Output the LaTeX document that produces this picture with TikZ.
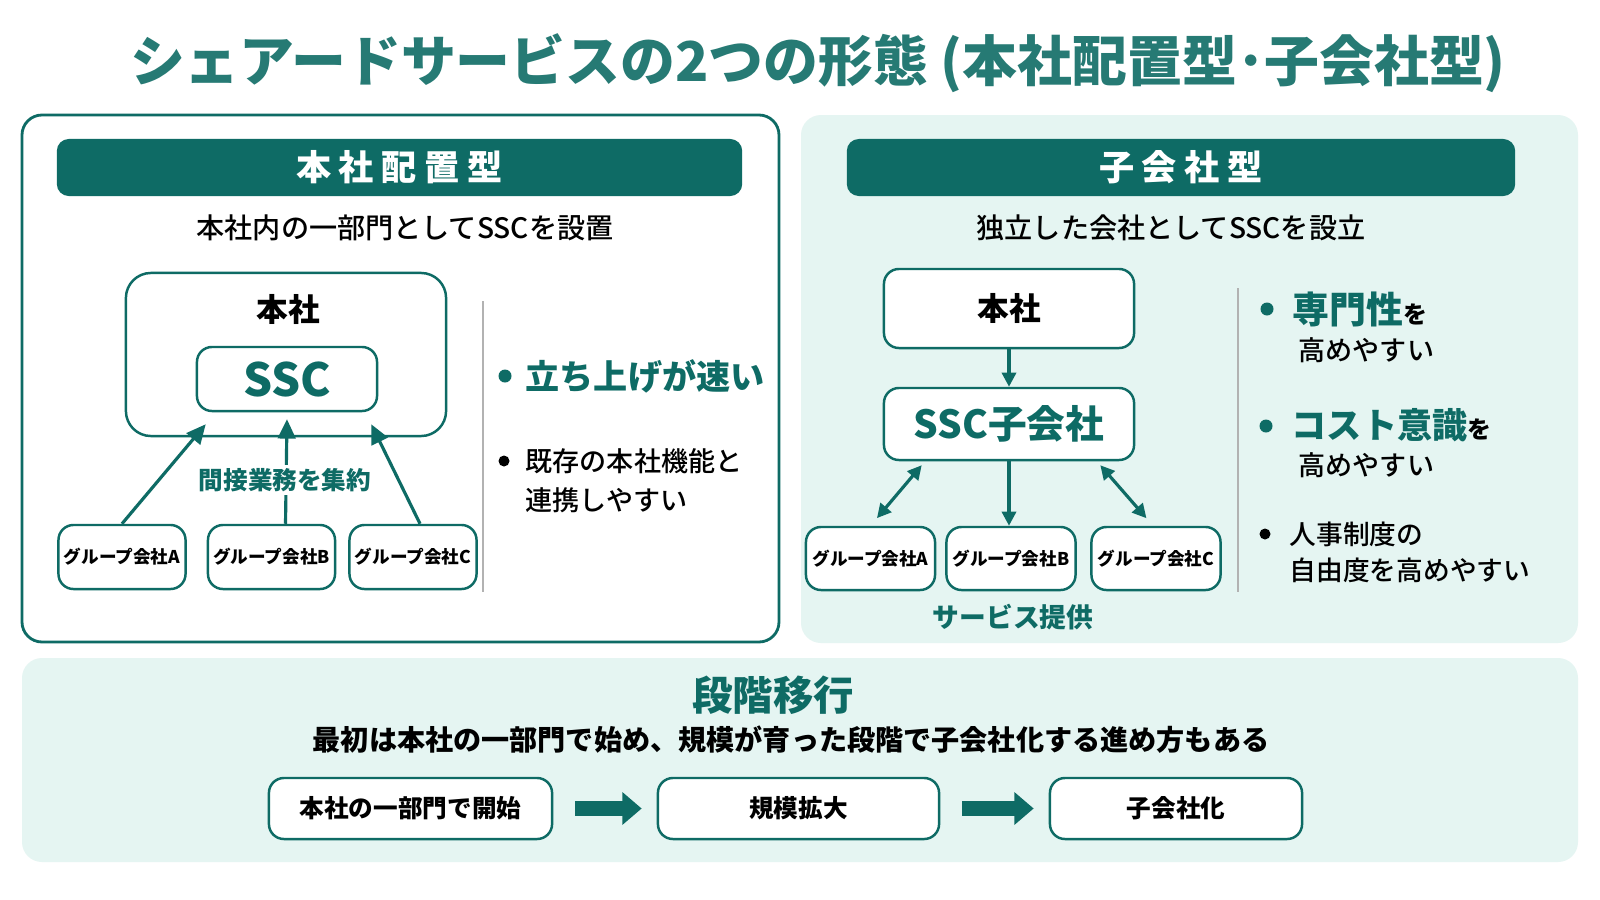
\documentclass[tikz,border=0pt]{standalone}
\usepackage{fontspec}
\setmainfont{Noto Sans CJK JP}
\newfontfamily\jpmed{Noto Sans CJK JP Medium}
\usetikzlibrary{arrows.meta,calc,positioning}
\definecolor{ssteal}{HTML}{0E6B65}
\definecolor{mint}{HTML}{E5F5F2}
\tikzstyle{titletext}=[text=ssteal!90!white, font=\bfseries\fontsize{15.6}{17}\selectfont]
\tikzstyle{header}=[rectangle, rounded corners=1.2mm, fill=ssteal, text=white, minimum height=5.7mm, font=\bfseries\fontsize{10}{11}\selectfont\addfontfeatures{LetterSpace=22}]
\tikzstyle{subtext}=[font=\jpmed\fontsize{8}{10}\selectfont]
\tikzstyle{box}=[rectangle, rounded corners=1.5mm, draw=ssteal, line width=0.7pt, fill=white, inner sep=0pt]
\tikzstyle{groupbox}=[box, minimum width=12.7mm, minimum height=6.4mm, font=\bfseries\fontsize{5}{6}\selectfont]
\tikzstyle{boxlabel}=[font=\bfseries\fontsize{9}{11}\selectfont]
\tikzstyle{ssclabel}=[text=ssteal, font=\bfseries\fontsize{13}{15}\selectfont]
\tikzstyle{edge}=[draw=ssteal, line width=0.9pt, -{Triangle[length=5.5pt,width=5pt]}]
\tikzstyle{twoway}=[draw=ssteal, line width=0.9pt, {Triangle[length=4pt,width=4pt]}-{Triangle[length=4pt,width=4pt]}]
\tikzstyle{tealnote}=[text=ssteal, font=\bfseries\fontsize{7}{8}\selectfont]
\tikzstyle{divider}=[draw=black!30, line width=0.5pt]
\tikzstyle{point}=[text=ssteal, font=\bfseries\fontsize{9.7}{11}\selectfont, anchor=west, inner sep=0pt]
\tikzstyle{pointtext}=[font=\jpmed\fontsize{7.7}{11}\selectfont, anchor=west, align=left, inner sep=0pt]
\tikzstyle{fatarrow}=[draw=ssteal, line width=4.5pt, -{Triangle[length=5.5pt,width=9pt]}, shorten <=2.2mm, shorten >=1.5mm]
\tikzstyle{stepbox}=[box, minimum height=6.1mm, font=\bfseries\fontsize{7}{8}\selectfont]
\begin{document}
\begin{tikzpicture}[x=0.01cm, y=-0.01cm]
    \useasboundingbox (0,0) rectangle (1600,900);
    \fill[white] (0,0) rectangle (1600,900);

    % Title
    \node[titletext] (title) at (818,63) {シェアードサービスの2つの形態 (本社配置型･子会社型)};

    % Panels
    \draw[ssteal, line width=0.8pt, fill=white, rounded corners=2mm] (22,115) rectangle (779,642);
    \fill[mint, rounded corners=2mm] (801,115) rectangle (1578,643);
    \fill[mint, rounded corners=2mm] (22,658) rectangle (1578,862);

    \node[header, minimum width=68.5mm] (hdrL) at (399.5,167.5) {本社配置型};
    \node[header, minimum width=66.8mm] (hdrR) at (1181,167.5) {子会社型};
    \node[subtext] (subL) at (405,228) {本社内の一部門としてSSCを設置};
    \node[subtext] (subR) at (1171,228) {独立した会社としてSSCを設立};

    % Left: SSC inside the head office
    \node[box, rounded corners=2.5mm, minimum width=32mm, minimum height=16.3mm] (hqL) at (286,354.5) {};
    \node[boxlabel] (hqLlbl) at (288,309) {本社};
    \node[box, minimum width=18mm, minimum height=6.4mm, ssclabel] (sscL) at (287,379) {SSC};
    \foreach \pos/\name/\label in {{(122,557)/gLA/A}, {(271.5,557)/gLB/B}, {(413,557)/gLC/C}}
        \node[groupbox] (\name) at \pos {グループ会社\label};

    \draw[edge] (gLA.north) -- ($(sscL.south west)+(10,12)$);
    \draw[edge] ($(gLB.north)+(14,0)$) -- ($(sscL.south)+(0,7)$);
    \draw[edge] ($(gLC.north)+(7,0)$) -- ($(sscL.south east)+(-7,12)$);
    \node[tealnote, fill=white, inner sep=1pt] (aggr) at (285,480) {間接業務を集約};

    \draw[divider] (483,301) -- (483,592);
    \fill[ssteal] (505,376) circle (0.65mm);
    \node[point] (fast) at (525,376) {立ち上げが速い};
    \fill[black] (504,461) circle (0.55mm);
    \node[pointtext] (link) at (525,480.5) {既存の本社機能と\\連携しやすい};

    % Right: SSC as a subsidiary
    \node[box, minimum width=25mm, minimum height=7.9mm, boxlabel] (hqR) at (1009,308.5) {本社};
    \node[box, minimum width=25mm, minimum height=7.2mm, text=ssteal, font=\bfseries\fontsize{11}{13}\selectfont] (sscR) at (1009,424) {SSC子会社};
    \foreach \pos/\name/\label in {{(870.5,558.5)/gRA/A}, {(1011,558.5)/gRB/B}, {(1156,558.5)/gRC/C}}
        \node[groupbox, minimum width=12.9mm, minimum height=6.3mm] (\name) at \pos {グループ会社\label};

    \draw[edge, -{Triangle[length=4pt,width=4pt]}] (hqR) -- (sscR);
    \draw[edge, -{Triangle[length=4pt,width=4pt]}] (sscR) -- (sscR |- gRB.north);
    \draw[twoway, shorten >=1mm] ($(sscR.south west)+(39,4)$) -- (gRA.north);
    \draw[twoway, shorten >=1mm] ($(sscR.south east)+(-35,4)$) -- ($(gRC.north)+(-3,0)$);
    \node[tealnote, font=\bfseries\fontsize{7.6}{9}\selectfont] (service) at (1013,617) {サービス提供};

    \draw[divider] (1238,288) -- (1238,592);
    \fill[ssteal] (1267,309) circle (0.65mm);
    \node[point, font=\bfseries\fontsize{10.5}{12}\selectfont] (expert) at (1292,309) {専門性{\jpmed\fontsize{6.8}{8}\selectfont\color{black}を}};
    \node[pointtext] (expert2) at (1298,350) {高めやすい};
    \fill[ssteal] (1266,426) circle (0.65mm);
    \node[point, font=\bfseries\fontsize{10}{12}\selectfont] (cost) at (1291,425) {コスト意識{\jpmed\fontsize{6.8}{8}\selectfont\color{black}を}};
    \node[pointtext] (cost2) at (1298,465) {高めやすい};
    \fill[black] (1265,534) circle (0.55mm);
    \node[pointtext, font=\jpmed\fontsize{7.6}{10.2}\selectfont] (hr) at (1289,552) {人事制度の\\自由度を高めやすい};

    % Bottom: step-by-step migration
    \node[text=ssteal, font=\bfseries\fontsize{11.5}{13}\selectfont] (stage) at (773,695) {段階移行};
    \node[font=\bfseries\fontsize{8}{10}\selectfont] (stagetxt) at (791,740) {最初は本社の一部門で始め、規模が育った段階で子会社化する進め方もある};
    \node[stepbox, minimum width=28.3mm] (s1) at (410.5,808.5) {本社の一部門で開始};
    \node[stepbox, minimum width=28.1mm] (s2) at (798.5,808.5) {規模拡大};
    \node[stepbox, minimum width=25.2mm] (s3) at (1176,808.5) {子会社化};
    \draw[fatarrow] (s1) -- (s2);
    \draw[fatarrow] (s2) -- (s3);
\end{tikzpicture}
\end{document}
